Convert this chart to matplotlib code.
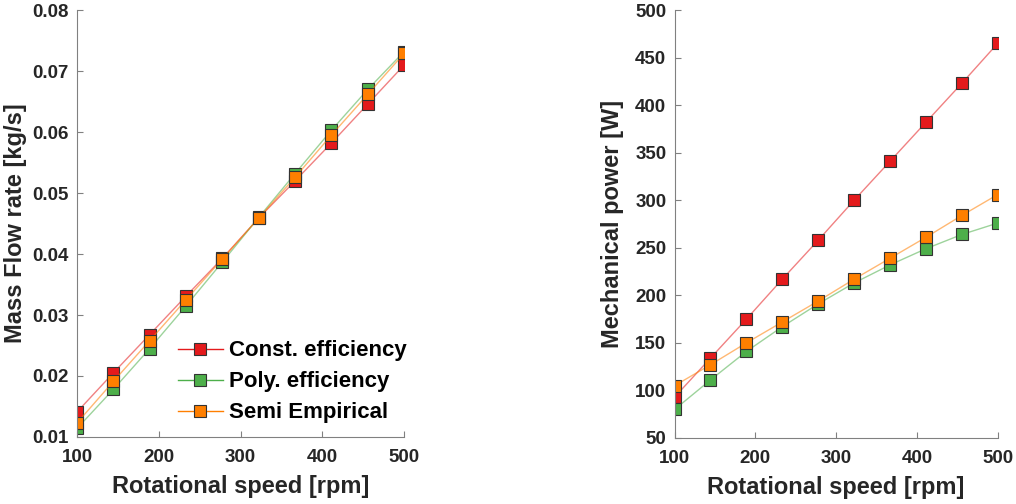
import matplotlib
matplotlib.use("Agg")
import matplotlib.pyplot as plt

speed = [100, 144.4, 188.9, 233.3, 277.8, 322.2, 366.7, 411.1, 455.6, 500]

labels = ["Const. efficiency", "Poly. efficiency", "Semi Empirical"]
colors = ["#e41a1c", "#4daf4a", "#ff7f00"]

# mass flow rate [kg/s]
mdot_const = [0.0141, 0.0205, 0.0268, 0.0331, 0.0393, 0.0459, 0.0520, 0.0582, 0.0646, 0.0710]
mdot_poly = [0.0114, 0.0178, 0.0245, 0.0315, 0.0387, 0.0460, 0.0532, 0.0603, 0.0670, 0.0732]
mdot_semi = [0.0123, 0.0191, 0.0258, 0.0325, 0.0392, 0.0459, 0.0526, 0.0595, 0.0662, 0.0729]

# mechanical power [W]
power_const = [93, 134, 175, 217, 258, 300, 341, 382, 423, 465]
power_poly = [80, 111, 141, 167, 191, 213, 232, 249, 264, 276]
power_semi = [105, 127, 150, 172, 194, 217, 239, 261, 284, 306]

plt.rcParams['font.family'] = ['Liberation Sans', 'DejaVu Sans']
plt.rcParams['font.weight'] = 'bold'
txt = '#262626'

fig = plt.figure(figsize=(10.16, 5.04), dpi=100)
ax1 = fig.add_axes([0.0758, 0.133, 0.322, 0.847])
ax2 = fig.add_axes([0.664, 0.131, 0.318, 0.849])

def draw(ax, series):
    for y, c, lab in zip(series, colors, labels):
        ax.plot(speed, y, '-', color=c, lw=1.0, alpha=0.55)
        ax.plot(speed, y, 's', color=c, ms=8, mec='#333333', mew=0.8)
        # legend proxy
        ax.plot([], [], '-s', color=c, lw=1.0, ms=8, mec='#333333', mew=0.8, label=lab)
    for s in ['top', 'right']:
        ax.spines[s].set_visible(False)
    for s in ['left', 'bottom']:
        ax.spines[s].set_color('#808080')
    ax.tick_params(direction='in', colors='#808080', labelcolor=txt, labelsize=13.5, length=4)
    ax.tick_params(axis='x', pad=9)
    ax.tick_params(axis='y', pad=6)
    ax.set_xlim(100, 500)
    ax.set_xticks([100, 200, 300, 400, 500])
    ax.set_xlabel('Rotational speed [rpm]', fontsize=17, fontweight='bold', color=txt, labelpad=6)

draw(ax1, [mdot_const, mdot_poly, mdot_semi])
ax1.set_ylim(0.01, 0.08)
ax1.set_yticks([0.01, 0.02, 0.03, 0.04, 0.05, 0.06, 0.07, 0.08])
ax1.set_yticklabels(['%.2f' % v for v in ax1.get_yticks()])
ax1.set_ylabel('Mass Flow rate [kg/s]', fontsize=17, fontweight='bold', color=txt, labelpad=4)
ax1.legend(loc='lower right', frameon=False, prop={'size': 16, 'weight': 'bold'},
           handlelength=2.0, handletextpad=0.3, labelspacing=0.45,
           bbox_to_anchor=(1.07, -0.015))

draw(ax2, [power_const, power_poly, power_semi])
ax2.set_ylim(50, 500)
ax2.set_yticks(range(50, 501, 50))
ax2.set_ylabel('Mechanical power [W]', fontsize=17, fontweight='bold', color=txt, labelpad=8)

for ax in (ax1, ax2):
    for t in ax.get_xticklabels() + ax.get_yticklabels():
        t.set_fontweight('bold')

fig.savefig('out.png', dpi=100)
